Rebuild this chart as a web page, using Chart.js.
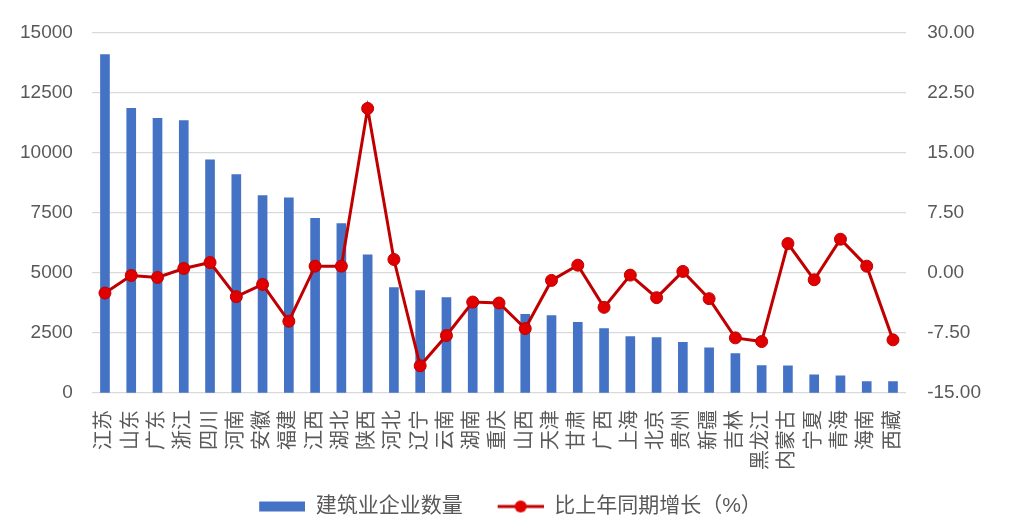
<!DOCTYPE html>
<html>
<head>
<meta charset="utf-8">
<script src="https://cdn.jsdelivr.net/npm/chart.js@4"></script>
<style>
  body { margin: 0; background: #fff; }
  #wrap { width: 1013px; height: 530px; }
</style>
</head>
<body>
<div id="wrap"><canvas id="myChart"></canvas></div>
<script>
// 各省建筑业企业数量及增长
const provinces = ["江苏", "山东", "广东", "浙江", "四川", "河南", "安徽", "福建", "江西", "湖北",
  "陕西", "河北", "辽宁", "云南", "湖南", "重庆", "山西", "天津", "甘肃", "广西",
  "上海", "北京", "贵州", "新疆", "吉林", "黑龙江", "内蒙古", "宁夏", "青海", "海南", "西藏"];
const counts = [14080, 11840, 11430, 11330, 9700, 9090, 8210, 8120, 7270, 7050,
  5750, 4390, 4260, 3970, 3850, 3650, 3270, 3220, 2940, 2680,
  2350, 2310, 2110, 1880, 1640, 1140, 1130, 760, 710, 480, 480];
const growth = [-2.53, -0.33, -0.58, 0.54, 1.28, -2.98, -1.45, -6.05, 0.83, 0.83,
  20.51, 1.66, -11.6, -7.83, -3.65, -3.77, -6.96, -0.95, 0.95, -4.31,
  -0.29, -3.1, 0.17, -3.23, -8.12, -8.58, 3.65, -0.87, 4.19, 0.83, -8.37];
const leftTicks = [0, 15000, 2500];
const rightTicks = [-15, 30, 7.5];

const fontFam = "'Liberation Sans', 'Noto Sans CJK SC', sans-serif";
const grey = "#595959";

// legend symbols (Excel style), blank strip on the left for spacing
function barSymbol() {
  const c = document.createElement("canvas");
  c.width = 64; c.height = 12;
  const g = c.getContext("2d");
  g.fillStyle = "#4472c4";
  g.fillRect(18, 1, 46, 10);
  return c;
}
function lineSymbol() {
  const c = document.createElement("canvas");
  c.width = 64; c.height = 16;
  const g = c.getContext("2d");
  g.strokeStyle = "#c00000";
  g.lineWidth = 3;
  g.beginPath(); g.moveTo(18, 8); g.lineTo(64, 8); g.stroke();
  g.fillStyle = "#e00000";
  g.beginPath(); g.arc(41, 8, 6, 0, Math.PI * 2); g.fill();
  return c;
}
const legendSymbols = [barSymbol(), lineSymbol()];

const ctx = document.getElementById("myChart");
const myChart = new Chart(ctx, {
  type: "bar",
  data: {
    labels: provinces,
    datasets: [
      {
        label: "建筑业企业数量",
        data: counts,
        backgroundColor: "#4472c4",
        barThickness: 9,
        yAxisID: "y",
        order: 1,
      },
      {
        type: "line",
        label: "比上年同期增长（%）",
        data: growth,
        borderColor: "#c00000",
        borderWidth: 3,
        pointRadius: 6,
        pointBackgroundColor: "#e00000",
        pointBorderColor: "#c00000",
        pointBorderWidth: 1,
        tension: 0,
        yAxisID: "y1",
        order: 0,
      },
    ],
  },
  options: {
    responsive: true,
    maintainAspectRatio: false,
    animation: false,
    layout: { padding: { top: 30, left: 1, right: 11, bottom: 3 } },
    plugins: {
      tooltip: { enabled: false },
      legend: {
        position: "bottom",
        labels: {
          usePointStyle: true,
          pointStyleWidth: 64,
          padding: 17,
          color: grey,
          font: { size: 21, family: fontFam },
          generateLabels: (chart) =>
            chart.data.datasets.map((ds, i) => ({
              text: ds.label,
              datasetIndex: i,
              pointStyle: legendSymbols[i],
              fontColor: grey,
              lineWidth: 0,
              hidden: false,
            })),
        },
      },
    },
    scales: {
      x: {
        grid: { display: false },
        border: { display: false },
        ticks: {
          autoSkip: false,
          minRotation: 90,
          maxRotation: 90,
          padding: 9,
          color: grey,
          font: { size: 20, family: fontFam },
        },
      },
      y: {
        position: "left",
        min: leftTicks[0],
        max: leftTicks[1],
        border: { display: false },
        grid: { color: "#d9d9d9", lineWidth: 1.3, drawTicks: false },
        ticks: {
          stepSize: leftTicks[2],
          padding: 19,
          color: grey,
          font: { size: 19, family: fontFam },
          callback: (v) => String(v),
        },
      },
      y1: {
        position: "right",
        min: rightTicks[0],
        max: rightTicks[1],
        border: { display: false },
        grid: { display: false, drawTicks: false },
        ticks: {
          stepSize: rightTicks[2],
          padding: 21,
          color: grey,
          font: { size: 19, family: fontFam },
          callback: (v) => v.toFixed(2),
        },
      },
    },
  },
});
</script>
</body>
</html>
